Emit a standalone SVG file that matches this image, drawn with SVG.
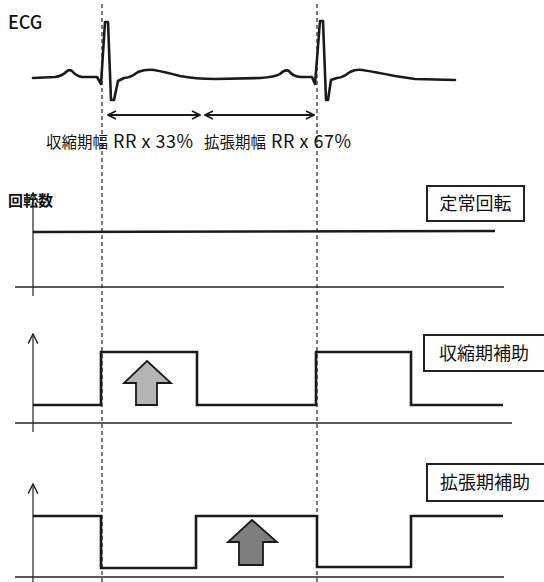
<svg xmlns="http://www.w3.org/2000/svg" width="544" height="582" viewBox="0 0 544 582">
<style>
text{font-family:"Noto Sans CJK JP","Liberation Sans",sans-serif;fill:#111}
.lbl{font-size:15px;font-weight:bold}
.cap{font-size:15.5px}
.lat{font-size:18px}
.box{fill:#fff;stroke:#222;stroke-width:2}
.boxt{font-size:18px;text-anchor:middle}
.wave{fill:none;stroke:#1a1a1a;stroke-width:2.6;stroke-linejoin:miter}
.ecg{fill:none;stroke:#1a1a1a;stroke-width:2.6;stroke-linejoin:round;stroke-linecap:round}
.base{fill:none;stroke:#222;stroke-width:1.4}
.axis{fill:none;stroke:#222;stroke-width:1.2}
.dash{fill:none;stroke:#222;stroke-width:1.2;stroke-dasharray:4 3}
.dbl{fill:none;stroke:#1a1a1a;stroke-width:2}
</style>
<defs>
<marker id="open" viewBox="0 0 10 10" refX="9" refY="5" markerWidth="10" markerHeight="10" markerUnits="userSpaceOnUse" orient="auto-start-reverse">
<path d="M1,1 L9,5 L1,9" fill="none" stroke="#1a1a1a" stroke-width="1.6"/>
</marker>
<marker id="axhead" viewBox="0 0 10 10" refX="9" refY="5" markerWidth="12" markerHeight="12" markerUnits="userSpaceOnUse" orient="auto">
<path d="M1,1 L9,5 L1,9" fill="none" stroke="#222" stroke-width="1.2"/>
</marker>
</defs>
<rect width="544" height="582" fill="#fff"/>

<g id="guides">
<line class="dash" x1="102" y1="4" x2="102" y2="582"/>
<line class="dash" x1="317" y1="4" x2="317" y2="582"/>
</g>

<g id="ecg">
<text x="8" y="29" style="font-size:18px;font-weight:500">ECG</text>
<path class="ecg" d="M33,78 L55,77 Q62,76 66,72 Q69,69 72,71 Q76,76 82,77 L97,77 L101,84 L105,22 L108,22 L111,100 L114,100 L118,81 L124,78 Q130,78 138,72 Q146,69 154,70 Q165,72 180,76 Q195,79 215,79 L260,78 Q275,77 280,74 Q285,69 289,71 Q292,76 300,77 L312,77 L315,84 L320,21 L323,21 L326,100 L328,100 L331,80 L337,78 Q342,78 350,72 Q356,69 362,70 Q375,72 395,76 L415,79 L455,80"/>
</g>

<g id="connectors">
<line class="dbl" x1="108" y1="115" x2="200" y2="115" marker-start="url(#open)" marker-end="url(#open)"/>
<line class="dbl" x1="205" y1="115" x2="314" y2="115" marker-start="url(#open)" marker-end="url(#open)"/>
</g>

<g id="labels">
<text class="cap" x="46" y="148">収縮期幅<tspan class="lat" dx="5" textLength="80" lengthAdjust="spacing">RR x 33%</tspan></text>
<text class="cap" x="204" y="148">拡張期幅<tspan class="lat" dx="5" textLength="80" lengthAdjust="spacing">RR x 67%</tspan></text>
</g>

<g id="constant">
<text class="lbl" x="8" y="206">回転数</text>
<line class="axis" x1="33" y1="296" x2="33" y2="193" marker-end="url(#axhead)"/>
<line class="base" x1="15" y1="287" x2="504" y2="287"/>
<path class="wave" d="M33,232 L495,231"/>
<rect class="box" x="427" y="186" width="97" height="35"/>
<text class="boxt" x="475.5" y="210">定常回転</text>
</g>

<g id="systolic">
<line class="axis" x1="33" y1="432" x2="33" y2="334" marker-end="url(#axhead)"/>
<line class="base" x1="15" y1="423" x2="512" y2="423"/>
<path class="wave" d="M33,405 L101,405 L101,352 L197,352 L197,405 L316,405 L316,352 L411,352 L411,405 L503,405"/>
<path d="M147,361 L171,383 L157,383 L157,405 L136,405 L136,383 L124,383 Z" fill="#b4b4b4" stroke="#1a1a1a" stroke-width="1.8" stroke-linejoin="miter"/>
<rect class="box" x="424" y="335" width="121" height="36"/>
<text class="boxt" x="484" y="360">収縮期補助</text>
</g>

<g id="diastolic">
<line class="axis" x1="33" y1="582" x2="33" y2="484" marker-end="url(#axhead)"/>
<line class="base" x1="15" y1="577" x2="504" y2="577"/>
<path class="wave" d="M33,516 L101,516 L101,568 L196,568 L196,516 L317,516 L317,567 L411,567 L411,516 L503,516"/>
<path d="M252,520 L277,542 L263,542 L263,565 L239,565 L239,542 L228,542 Z" fill="#7e7e7e" stroke="#1a1a1a" stroke-width="1.8" stroke-linejoin="miter"/>
<rect class="box" x="427" y="464" width="118" height="37"/>
<text class="boxt" x="485" y="489">拡張期補助</text>
</g>
</svg>
